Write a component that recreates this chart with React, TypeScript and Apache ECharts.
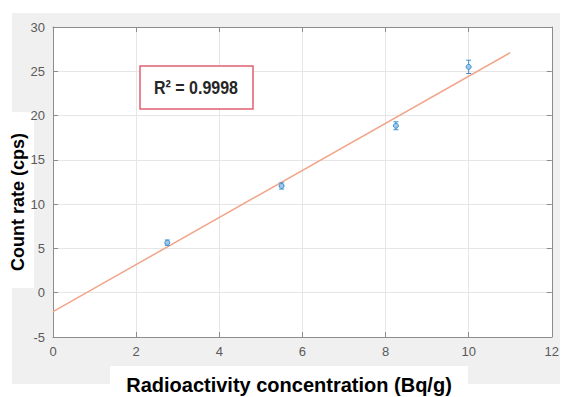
import React, { useEffect, useRef } from "react";
import * as echarts from "echarts";

const xValues = [2.75, 5.5, 8.25, 10.0];
const yValues = [5.65, 12.05, 18.85, 25.5];
const yErrors = [0.3, 0.35, 0.45, 0.75];
const fitLine = [
  [0, -2.14],
  [11, 27.1],
];
const xTicks = [0, 2, 4, 6, 8, 10, 12];
const yTicks = [-5, 0, 5, 10, 15, 20, 25, 30];
const r2Label = "R\u00B2 = 0.9998";
const xTitle = "Radioactivity concentration (Bq/g)";
const yTitle = "Count rate (cps)";

export default function App() {
  const ref = useRef<HTMLDivElement>(null);
  useEffect(() => {
    if (!ref.current) return;
    const chart = echarts.init(ref.current, null, { renderer: "svg" });
    const axisCommon = {
      axisLine: { show: true, onZero: false, lineStyle: { color: "#8c8c8c", width: 1 } },
      axisTick: { show: true, inside: true, length: 5, lineStyle: { color: "#8c8c8c" } },
    };
    const labelStyle = {
      color: "#5a5a5a",
      fontSize: 13,
      fontFamily: "'Liberation Sans', Arial",
      margin: 8,
    };
    const pointData = xValues.map((x, i) => [x, yValues[i], yErrors[i]]);
    chart.setOption({
      animation: false,
      backgroundColor: "#ffffff",
      graphic: [
        { type: "rect", shape: { x: 12, y: 13, width: 548, height: 371 }, style: { fill: "#f0f0f0" }, z: -10 },
        { type: "rect", shape: { x: 0, y: 112, width: 34, height: 176 }, style: { fill: "#ffffff" }, z: -9 },
        { type: "rect", shape: { x: 110, y: 366, width: 358, height: 31 }, style: { fill: "#ffffff" }, z: -9 },
        { type: "rect", shape: { x: 53, y: 27, width: 499, height: 310 }, style: { fill: "#ffffff" }, z: -8 },
        {
          type: "rect",
          shape: { x: 140, y: 66, width: 113, height: 43 },
          style: { fill: "#ffffff", stroke: "#e06070", lineWidth: 1.5 },
          z: 100,
        },
        {
          type: "text",
          x: 196,
          y: 88,
          scaleY: 1.15,
          style: {
            text: r2Label,
            font: "bold 16px 'Liberation Sans', Arial, sans-serif",
            fill: "#262626",
            align: "center",
            verticalAlign: "middle",
          },
          z: 101,
        },
        {
          type: "text",
          x: 18,
          y: 202,
          rotation: Math.PI / 2,
          style: {
            text: yTitle,
            font: "bold 18px 'Liberation Sans', Arial, sans-serif",
            fill: "#000000",
            align: "center",
            verticalAlign: "middle",
          },
          z: 101,
        },
        {
          type: "text",
          x: 289,
          y: 385,
          style: {
            text: xTitle,
            font: "bold 20px 'Liberation Sans', Arial, sans-serif",
            fill: "#000000",
            align: "center",
            verticalAlign: "middle",
          },
          z: 101,
        },
      ],
      grid: { left: 53, top: 27, width: 499, height: 310, containLabel: false },
      xAxis: [
        {
          type: "value",
          min: xTicks[0],
          max: xTicks[xTicks.length - 1],
          interval: 2,
          ...axisCommon,
          axisLabel: labelStyle,
          splitLine: { show: true, lineStyle: { color: "#e6e6e6" } },
        },
        {
          type: "value",
          position: "top",
          min: xTicks[0],
          max: xTicks[xTicks.length - 1],
          interval: 2,
          ...axisCommon,
          axisLabel: { show: false },
          splitLine: { show: false },
        },
      ],
      yAxis: [
        {
          type: "value",
          min: yTicks[0],
          max: yTicks[yTicks.length - 1],
          interval: 5,
          ...axisCommon,
          axisLabel: labelStyle,
          splitLine: { show: true, lineStyle: { color: "#e6e6e6" } },
        },
        {
          type: "value",
          position: "right",
          min: yTicks[0],
          max: yTicks[yTicks.length - 1],
          interval: 5,
          ...axisCommon,
          axisLabel: { show: false },
          splitLine: { show: false },
        },
      ],
      series: [
        {
          type: "line",
          data: fitLine,
          symbol: "none",
          lineStyle: { color: "#f2a58a", width: 1.5 },
          z: 3,
        },
        {
          type: "custom",
          data: pointData,
          z: 4,
          renderItem: (params: any, api: any) => {
            const x = api.value(0);
            const y = api.value(1);
            const e = api.value(2);
            const top = api.coord([x, y + e]);
            const bot = api.coord([x, y - e]);
            const c = api.coord([x, y]);
            const cap = 2.5;
            const stroke = { stroke: "#3f8fd0", lineWidth: 1 };
            return {
              type: "group",
              children: [
                { type: "line", shape: { x1: top[0], y1: top[1], x2: bot[0], y2: bot[1] }, style: stroke },
                { type: "line", shape: { x1: top[0] - cap, y1: top[1], x2: top[0] + cap, y2: top[1] }, style: stroke },
                { type: "line", shape: { x1: bot[0] - cap, y1: bot[1], x2: bot[0] + cap, y2: bot[1] }, style: stroke },
                { type: "circle", shape: { cx: c[0], cy: c[1], r: 2.5 }, style: { fill: "#9cc8ec", stroke: "#3f8fd0", lineWidth: 1 } },
              ],
            };
          },
        },
      ],
    });
    return () => chart.dispose();
  }, []);
  return <div ref={ref} style={{ width: 562, height: 397, position: "absolute", left: 0, top: 0 }} />;
}
